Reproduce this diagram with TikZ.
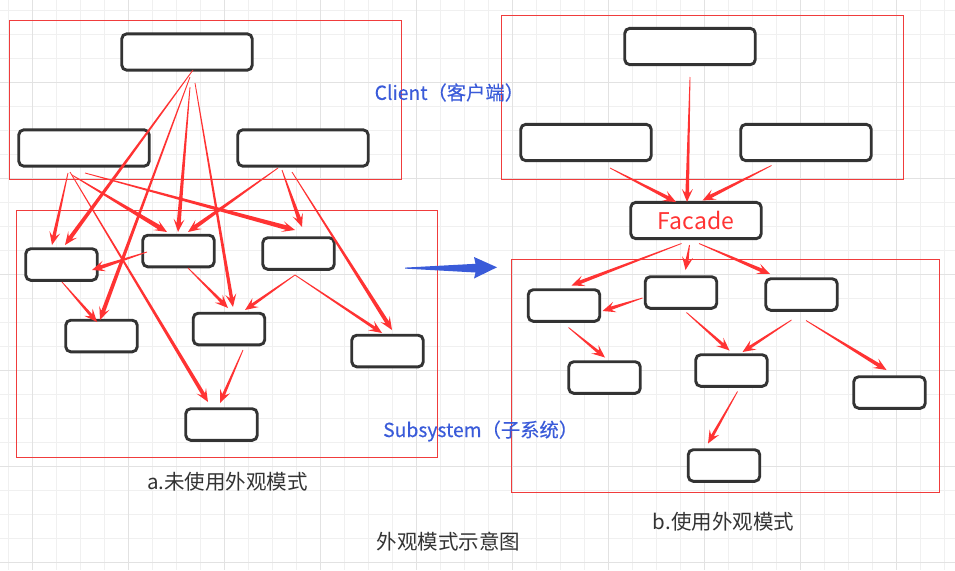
\documentclass[tikz,border=0pt]{standalone}
\usepackage{fontspec}
\newfontfamily\cjk{Noto Sans CJK SC}
\newfontfamily\cjkb[FakeBold=0.35]{Noto Sans CJK SC}
\usetikzlibrary{calc}
\definecolor{arrred}{HTML}{FF3333}
\definecolor{framered}{HTML}{F03C3C}
\definecolor{boxgray}{HTML}{333333}
\definecolor{blu}{HTML}{3A5BD9}
\definecolor{txtgray}{HTML}{333333}
\definecolor{gridminor}{HTML}{F0F0F0}
\definecolor{gridmajor}{HTML}{E2E2E2}
\tikzset{
  bigbox/.style={draw=boxgray, line width=2.9pt, rounded corners=5pt, fill=white,
    minimum width=130.5pt, minimum height=36.3pt, inner sep=0pt},
  smallbox/.style={draw=boxgray, line width=2.9pt, rounded corners=5pt, fill=white,
    minimum width=71.5pt, minimum height=31.6pt, inner sep=0pt},
  frame/.style={draw=framered, line width=1pt},
  bluelabel/.style={text=blu, font=\cjkb\fontsize{19.3pt}{22pt}\selectfont, inner sep=0pt},
  caption/.style={text=txtgray, font=\cjk\fontsize{20.5pt}{24pt}\selectfont, inner sep=0pt},
}
% tapered arrow: #1 half width at head end (pt), #2 start, #3 tip
\newcommand\tarr[3][1.5]{%
  \fill[arrred] let \p1=#2, \p2=#3, \n1={atan2(\y2-\y1,\x2-\x1)} in
    ($(\p1)+({\n1+90}:0.4pt)$)
    -- ($(\p2)+({\n1+180}:9pt)+({\n1+90}:#1pt)$)
    -- ($(\p2)+({\n1+180}:13pt)+({\n1+90}:5.5pt)$)
    -- (\p2)
    -- ($(\p2)+({\n1+180}:13pt)+({\n1-90}:5.5pt)$)
    -- ($(\p2)+({\n1+180}:9pt)+({\n1-90}:#1pt)$)
    -- ($(\p1)+({\n1-90}:0.4pt)$) -- cycle;}
\begin{document}
\begin{tikzpicture}[x=1pt,y=-1pt]
\useasboundingbox (0,0) rectangle (955,570);
\fill[white] (0,0) rectangle (955,570);
% grid
\foreach \i in {0,...,39} {\draw[gridminor, line width=1pt] (8.7+24*\i,0) -- (8.7+24*\i,570);}
\foreach \i in {0,...,23} {\draw[gridminor, line width=1pt] (0,10+24*\i) -- (955,10+24*\i);}
\foreach \i in {0,...,9} {\draw[gridmajor, line width=1pt] (32.7+96*\i,0) -- (32.7+96*\i,570);}
\foreach \i in {0,...,5} {\draw[gridmajor, line width=1pt] (0,82+96*\i) -- (955,82+96*\i);}

% frames
\draw[frame] (9.5,20.5) rectangle (401.5,179.5);
\draw[frame] (16.5,210.5) rectangle (437.5,457.5);
\draw[frame] (501.5,15.5) rectangle (903.5,179.5);
\draw[frame] (511.5,259.5) rectangle (939.5,492.5);

% labels
\node[bluelabel, anchor=west] (lclient) at (374.5,92.5) {Client（客户端）};
\node[bluelabel, anchor=west] (lsub) at (383,431) {Subsystem（子系统）};
\node[caption] (capa) at (227.5,482) {a.未使用外观模式};
\node[caption] (capb) at (723.5,521.5) {b.使用外观模式};
\node[caption] (capt) at (448.3,542) {外观模式示意图};

% left nodes
\node[bigbox] (A) at (187,52) {};
\node[bigbox] (B) at (84,148) {};
\node[bigbox] (C) at (303,148) {};
\node[smallbox] (S1) at (61.5,264.5) {};
\node[smallbox] (S2) at (178.5,251) {};
\node[smallbox] (S3) at (298.5,253.5) {};
\node[smallbox] (S4) at (101.5,336) {};
\node[smallbox] (S5) at (229,329) {};
\node[smallbox] (S6) at (387.5,351) {};
\node[smallbox] (S7) at (221.5,424.5) {};

% right nodes
\node[bigbox] (RA) at (690,46.5) {};
\node[bigbox] (RB) at (586,142.5) {};
\node[bigbox] (RC) at (806,142.5) {};
\node[bigbox, text=arrred, font=\cjk\fontsize{23pt}{26pt}\selectfont] (F) at (696,220.5) {Facade};
\node[smallbox] (R1) at (564,305.5) {};
\node[smallbox] (R2) at (681,292.5) {};
\node[smallbox] (R3) at (801.5,294.5) {};
\node[smallbox] (R4) at (604.5,377.5) {};
\node[smallbox] (R5) at (731.5,370.5) {};
\node[smallbox] (R6) at (889.5,392.5) {};
\node[smallbox] (R7) at (724,465.5) {};

% left arrows
\tarr[2.0]{($(A)+(6,18)$)}{($(S1)+(3.5,-19.5)$)}
\tarr[2.0]{($(A)+(3,25)$)}{($(S4)+(-1.5,-16)$)}
\tarr[2.0]{($(A)+(3,35)$)}{($(S2)+(-0.5,-19)$)}
\tarr[1.7]{($(A)+(8,31)$)}{($(S5)+(4,-22)$)}
\tarr[1.7]{($(B)+(-16,25)$)}{($(S1)+(-9.5,-19.5)$)}
\tarr[2.3]{($(B)+(-12,27)$)}{($(S2)+(-11.5,-19)$)}
\tarr[2.3]{($(B)+(1,25)$)}{($(S3)+(-3.5,-23.5)$)}
\tarr[1.9]{($(B)+(-14,24)$)}{($(S7)+(-13.5,-22.5)$)}
\tarr[2.0]{($(C)+(-25,20)$)}{($(S2)+(9.5,-19)$)}
\tarr[2.0]{($(C)+(-21,22)$)}{($(S3)+(3.5,-26.5)$)}
\tarr[2.0]{($(C)+(-11,24)$)}{($(S6)+(4.5,-21)$)}
\tarr[1.9]{($(S2)+(-31.5,1)$)}{($(S1)+(30.5,5.5)$)}
\tarr[1.5]{($(S2)+(9.5,17)$)}{($(S5)+(-1,-21)$)}
\tarr[1.5]{($(S3)+(-3.5,21.5)$)}{($(S5)+(16,-19)$)}
\tarr[1.5]{($(S3)+(-3.5,21.5)$)}{($(S6)+(-5.5,-18)$)}
\tarr[1.5]{($(S1)+(0.5,17.5)$)}{($(S4)+(-4.5,-14)$)}
\tarr[1.5]{($(S5)+(14,21)$)}{($(S7)+(-1.5,-21.5)$)}

% right arrows
\tarr[1.8]{($(RA)+(0,30.5)$)}{($(F)+(-9,-18.5)$)}
\tarr[1.8]{($(RB)+(24,25.5)$)}{($(F)+(-20,-18.5)$)}
\tarr[1.8]{($(RC)+(-34.5,23)$)}{($(F)+(6.5,-20)$)}
\tarr[1.8]{($(F)+(-14.5,23)$)}{($(R1)+(7.5,-20)$)}
\tarr[1.6]{($(F)+(-6.5,24.5)$)}{($(R2)+(4.5,-22.5)$)}
\tarr[1.9]{($(F)+(3,23)$)}{($(R3)+(-31.5,-20.5)$)}
\tarr[1.7]{($(R2)+(-38.5,5.5)$)}{($(R1)+(38.5,5.5)$)}
\tarr[1.5]{($(R1)+(4.5,22)$)}{($(R4)+(0.5,-20)$)}
\tarr[1.5]{($(R2)+(5.5,20)$)}{($(R5)+(-2,-20)$)}
\tarr[1.5]{($(R3)+(-10,25.5)$)}{($(R5)+(11,-18.5)$)}
\tarr[1.9]{($(R3)+(4.5,26)$)}{($(R6)+(-3,-22.5)$)}
\tarr[1.5]{($(R5)+(6,21)$)}{($(R7)+(-16,-22)$)}

% blue transition arrow
\fill[blu] (405,267.6) -- (475.5,263.8) -- (474,257) -- (497,267.3) -- (474,278.5) -- (475.5,272.5) -- (405,268.6) -- cycle;
\end{tikzpicture}
\end{document}
